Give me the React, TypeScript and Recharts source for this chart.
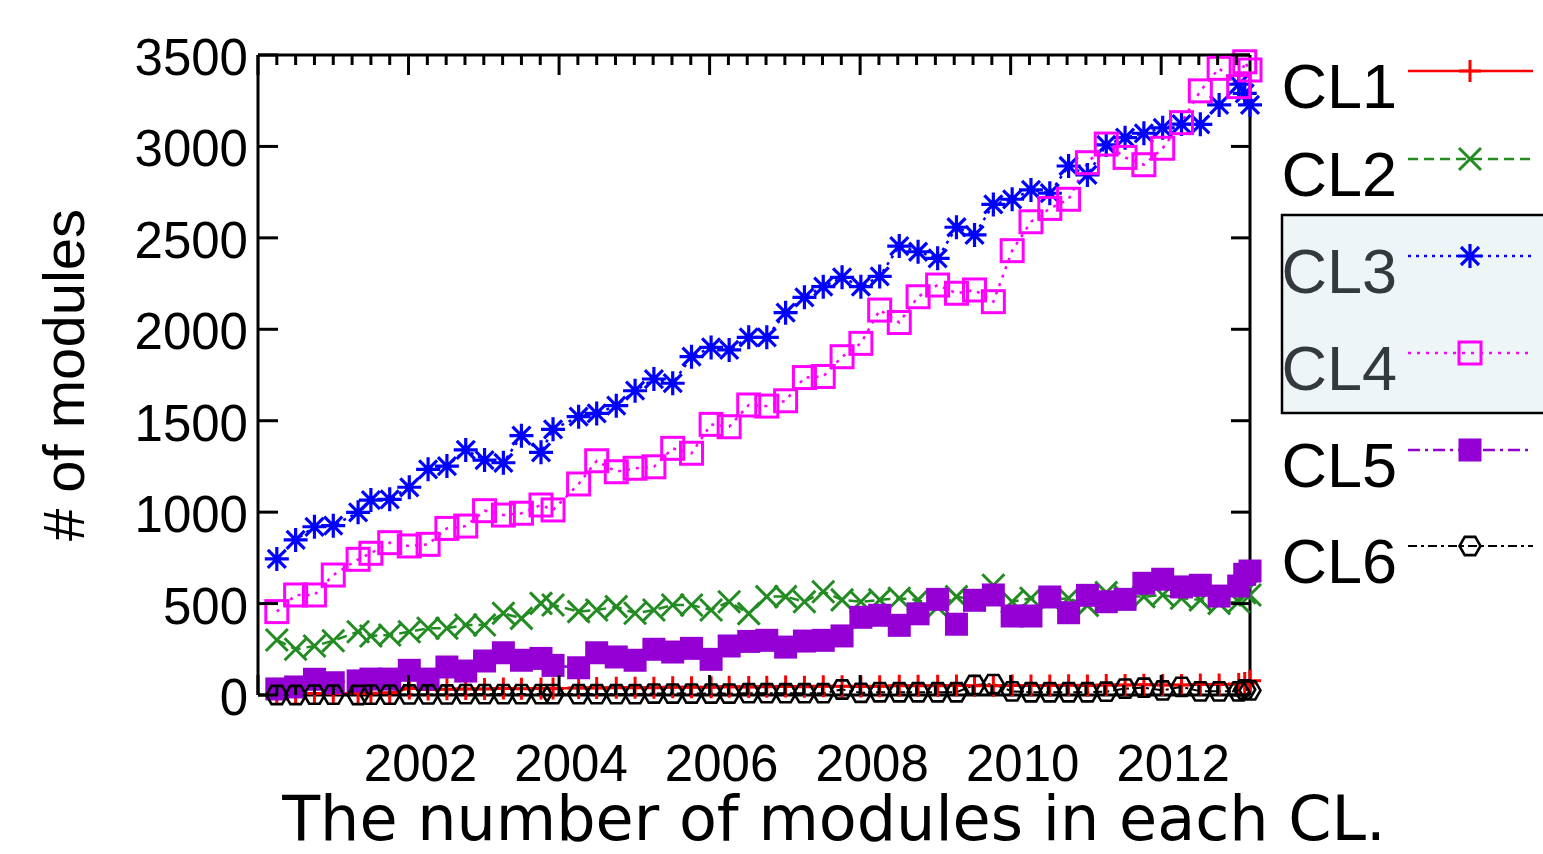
import { LineChart, Line, XAxis, YAxis } from 'recharts';

// release dates (decimal years)
const dates = [
  2000.25, 2000.5, 2000.75, 2001.0, 2001.33, 2001.5, 2001.75, 2002.01, 2002.26, 2002.51,
  2002.76, 2003.01, 2003.26, 2003.5, 2003.76, 2003.92, 2004.26, 2004.5, 2004.76, 2005.01,
  2005.26, 2005.51, 2005.76, 2006.02, 2006.26, 2006.52, 2006.76, 2007.01, 2007.26, 2007.51,
  2007.76, 2008.01, 2008.26, 2008.52, 2008.77, 2009.03, 2009.28, 2009.52, 2009.77, 2010.02,
  2010.27, 2010.52, 2010.77, 2011.02, 2011.27, 2011.52, 2011.77, 2012.02, 2012.27, 2012.52,
  2012.77, 2013.03, 2013.11, 2013.18,
];

const cl1 = [
  5, 6, 8, 8, 10, 10, 12, 35, 30, 32, 33, 33, 35, 34, 36, 36, 38, 38, 40, 40,
  40, 42, 42, 42, 45, 44, 45, 46, 45, 48, 48, 47, 48, 50, 50, 50, 52, 50, 50, 52,
  52, 52, 53, 52, 55, 55, 56, 55, 55, 58, 58, 60, 65, 78,
];

const cl2 = [
  301, 250, 268, 297, 346, 323, 328, 346, 365, 365, 383, 383, 447, 419, 501, 492, 456, 465, 483, 447,
  465, 492, 492, 465, 510, 445, 538, 538, 510, 565, 520, 510, 520, 529, 520, 480, 538, 520, 600, 510,
  529, 520, 529, 490, 560, 540, 538, 547, 529, 520, 501, 510, 560, 547,
];

const cl3 = [
  744, 848, 920, 926, 999, 1066, 1070, 1136, 1234, 1252, 1340, 1285, 1270, 1418, 1327, 1453, 1522, 1540, 1582, 1664,
  1728, 1705, 1850, 1901, 1887, 1956, 1956, 2091, 2175, 2233, 2284, 2233, 2289, 2455, 2424, 2388, 2558, 2516, 2683, 2711,
  2762, 2744, 2893, 2844, 3008, 3048, 3072, 3102, 3122, 3121, 3227, 3340, 3290, 3227,
];

const cl4 = [
  456, 547, 547, 656, 742, 775, 833, 815, 824, 911, 924, 1008, 984, 994, 1039, 1012, 1154, 1281, 1221, 1240,
  1248, 1349, 1322, 1480, 1467, 1586, 1580, 1609, 1736, 1742, 1850, 1923, 2105, 2037, 2178, 2242, 2197, 2215, 2151, 2430,
  2588, 2661, 2711, 2911, 3013, 2940, 2900, 2990, 3130, 3304, 3427, 3327, 3463, 3418,
];

const cl5 = [
  33, 44, 86, 67, 77, 87, 87, 135, 87, 153, 131, 186, 231, 190, 200, 162, 149, 231, 208, 190,
  250, 235, 255, 195, 268, 293, 299, 262, 295, 299, 323, 425, 436, 381, 444, 523, 387, 518, 547, 432,
  432, 536, 450, 545, 510, 523, 611, 633, 591, 600, 541, 596, 660, 678,
];

const cl6 = [
  0, 0, 2, 2, 0, 2, 2, 3, 3, 3, 5, 5, 5, 5, 5, 5, 5, 5, 5, 5,
  8, 8, 8, 8, 8, 10, 10, 10, 10, 10, 30, 12, 15, 15, 15, 15, 15, 55, 60, 20,
  15, 15, 15, 15, 18, 35, 40, 25, 45, 20, 20, 20, 30, 25,
];

const yTicks = [0, 500, 1000, 1500, 2000, 2500, 3000, 3500];
const labelledYears = [2002, 2004, 2006, 2008, 2010, 2012];

const quarterTicks: number[] = [];
for (let q = 0; q <= 52; q++) quarterTicks.push(2000 + q / 4);

const data = dates.map((date, i) => ({
  date,
  CL1: cl1[i],
  CL2: cl2[i],
  CL3: cl3[i],
  CL4: cl4[i],
  CL5: cl5[i],
  CL6: cl6[i],
}));

type MarkerKind = 'plus' | 'cross' | 'star' | 'square' | 'filled' | 'circle';

const series: { key: string; color: string; dash?: string; width: number; marker: MarkerKind }[] = [
  { key: 'CL1', color: '#ff0000', width: 2.5, marker: 'plus' },
  { key: 'CL2', color: '#228b22', dash: '10 6', width: 2.5, marker: 'cross' },
  { key: 'CL3', color: '#0000ff', dash: '3 5', width: 2.5, marker: 'star' },
  { key: 'CL4', color: '#ff00ff', dash: '3 6', width: 2.5, marker: 'square' },
  { key: 'CL5', color: '#9400d3', dash: '12 5 3 5', width: 2.5, marker: 'filled' },
  { key: 'CL6', color: '#000000', dash: '9 4 3 4', width: 2, marker: 'circle' },
];

const FONT = '"Liberation Sans", Arial, sans-serif';
const AXIS_W = 3;

const Marker = ({ cx, cy, kind, color }: { cx?: number; cy?: number; kind: MarkerKind; color: string }) => {
  if (cx == null || cy == null || isNaN(cx) || isNaN(cy)) return null;
  const s = 11;
  switch (kind) {
    case 'plus':
      return <path d={`M${cx - s},${cy}H${cx + s}M${cx},${cy - s}V${cy + s}`} stroke={color} strokeWidth={3} fill="none" />;
    case 'cross':
      return (
        <path
          d={`M${cx - s},${cy - s}L${cx + s},${cy + s}M${cx - s},${cy + s}L${cx + s},${cy - s}`}
          stroke={color}
          strokeWidth={3}
          fill="none"
        />
      );
    case 'star': {
      const r = 12;
      const d = 9;
      return (
        <path
          d={`M${cx - r},${cy}H${cx + r}M${cx},${cy - r}V${cy + r}M${cx - d},${cy - d}L${cx + d},${cy + d}M${cx - d},${cy + d}L${cx + d},${cy - d}`}
          stroke={color}
          strokeWidth={3.2}
          fill="none"
        />
      );
    }
    case 'square':
      return <rect x={cx - 11} y={cy - 11} width={22} height={22} stroke={color} strokeWidth={3} fill="none" />;
    case 'filled':
      return <rect x={cx - 11.5} y={cy - 11.5} width={23} height={23} fill={color} />;
    default: {
      const r = 10.5;
      const pts = [0, 60, 120, 180, 240, 300]
        .map((a) => `${cx + r * Math.cos((a * Math.PI) / 180)},${cy + r * Math.sin((a * Math.PI) / 180)}`)
        .join(' ');
      return <polygon points={pts} stroke={color} strokeWidth={2.6} fill="none" />;
    }
  }
};

const isMajor = (v: number) => Number.isInteger(v) && v % 2 === 0;

const BottomTick = ({ x, y, payload }: any) => {
  const v = payload.value as number;
  const major = isMajor(v);
  return (
    <g>
      <line x1={x} y1={y} x2={x} y2={y - (major ? 20 : 10)} stroke="#000" strokeWidth={AXIS_W} />
      {major && labelledYears.includes(v) && (
        <text x={x + 12} y={y + 86} textAnchor="middle" fontFamily={FONT} fontSize={51} fill="#000">
          {v}
        </text>
      )}
    </g>
  );
};

const TopTick = ({ x, y, payload }: any) => {
  const major = isMajor(payload.value);
  return <line x1={x} y1={y} x2={x} y2={y + (major ? 20 : 10)} stroke="#000" strokeWidth={AXIS_W} />;
};

const LeftTick = ({ x, y, payload }: any) => (
  <g>
    <line x1={x} y1={y} x2={x + 20} y2={y} stroke="#000" strokeWidth={AXIS_W} />
    <text x={x - 10} y={y + 20} textAnchor="end" fontFamily={FONT} fontSize={51} fill="#000">
      {payload.value}
    </text>
  </g>
);

const RightTick = ({ x, y }: any) => <line x1={x} y1={y} x2={x - 19} y2={y} stroke="#000" strokeWidth={AXIS_W} />;

const XTitle = ({ viewBox }: any) => (
  <text
    x={viewBox.x + viewBox.width / 2 + 80}
    y={viewBox.y + 145}
    textAnchor="middle"
    fontFamily='"DejaVu Sans", sans-serif'
    fontSize={62}
    fill="#000"
  >
    The number of modules in each CL.
  </text>
);

const YTitle = ({ viewBox }: any) => {
  const cx = 84;
  const cy = viewBox.y + viewBox.height / 2;
  return (
    <text x={cx} y={cy} transform={`rotate(-90 ${cx} ${cy})`} textAnchor="middle" fontFamily={FONT} fontSize={58} fill="#000">
      # of modules
    </text>
  );
};

// legend rows: sample line y positions
const legendRows = [71, 159, 256, 353, 450, 546];
const highlighted = ['CL3', 'CL4'];

const KeyBox = () => (
  <svg width={1543} height={854} style={{ position: 'absolute', left: 0, top: 0, pointerEvents: 'none' }}>
    <rect x={1282} y={215} width={280} height={198} fill="#eef5f7" stroke="#000" strokeWidth={2.5} />
    {series.map((s, i) => {
      const ly = legendRows[i];
      return (
        <g key={s.key}>
          <text
            x={1397}
            y={ly + 37}
            textAnchor="end"
            fontFamily={FONT}
            fontSize={63}
            fill={highlighted.includes(s.key) ? '#333a3d' : '#000'}
          >
            {s.key}
          </text>
          <line x1={1408} y1={ly} x2={1533} y2={ly} stroke={s.color} strokeWidth={s.width} strokeDasharray={s.dash} />
          <Marker cx={1470} cy={ly} kind={s.marker} color={s.color} />
        </g>
      );
    })}
  </svg>
);

export default function App() {
  return (
    <div style={{ position: 'absolute', left: 0, top: 0, width: 1543, height: 854, background: '#fff' }}>
      <LineChart width={1543} height={854} data={data} margin={{ top: 54, right: 292, bottom: 0, left: 0 }}>
        <XAxis
          dataKey="date"
          type="number"
          domain={[2000, 2013.18]}
          ticks={quarterTicks}
          interval={0}
          height={159}
          tickSize={0}
          tickMargin={0}
          tickLine={false}
          tick={<BottomTick />}
          axisLine={{ stroke: '#000', strokeWidth: AXIS_W }}
          label={<XTitle />}
        />
        <XAxis
          xAxisId="top"
          dataKey="date"
          orientation="top"
          type="number"
          domain={[2000, 2013.18]}
          ticks={quarterTicks}
          interval={0}
          height={1}
          tickSize={0}
          tickMargin={0}
          tickLine={false}
          tick={<TopTick />}
          axisLine={{ stroke: '#000', strokeWidth: AXIS_W }}
        />
        <YAxis
          type="number"
          domain={[0, 3500]}
          ticks={yTicks}
          interval={0}
          width={258}
          tickSize={0}
          tickMargin={0}
          tickLine={false}
          tick={<LeftTick />}
          axisLine={{ stroke: '#000', strokeWidth: AXIS_W }}
          label={<YTitle />}
        />
        <YAxis
          yAxisId="right"
          orientation="right"
          type="number"
          domain={[0, 3500]}
          ticks={yTicks}
          interval={0}
          width={1}
          tickSize={0}
          tickMargin={0}
          tickLine={false}
          tick={<RightTick />}
          axisLine={{ stroke: '#000', strokeWidth: AXIS_W }}
        />
        {series.map((s, i) => (
          <Line
            key={s.key}
            // CL1 is tied to the mirrored top/right axes (same domains) so the frame is drawn on all sides
            xAxisId={i === 0 ? 'top' : 0}
            yAxisId={i === 0 ? 'right' : 0}
            dataKey={s.key}
            type="linear"
            stroke={s.color}
            strokeWidth={s.width}
            strokeDasharray={s.dash}
            isAnimationActive={false}
            activeDot={false}
            dot={(p: any) => <Marker key={`${s.key}-${p.index}`} cx={p.cx} cy={p.cy} kind={s.marker} color={s.color} />}
          />
        ))}
      </LineChart>
      <KeyBox />
    </div>
  );
}
